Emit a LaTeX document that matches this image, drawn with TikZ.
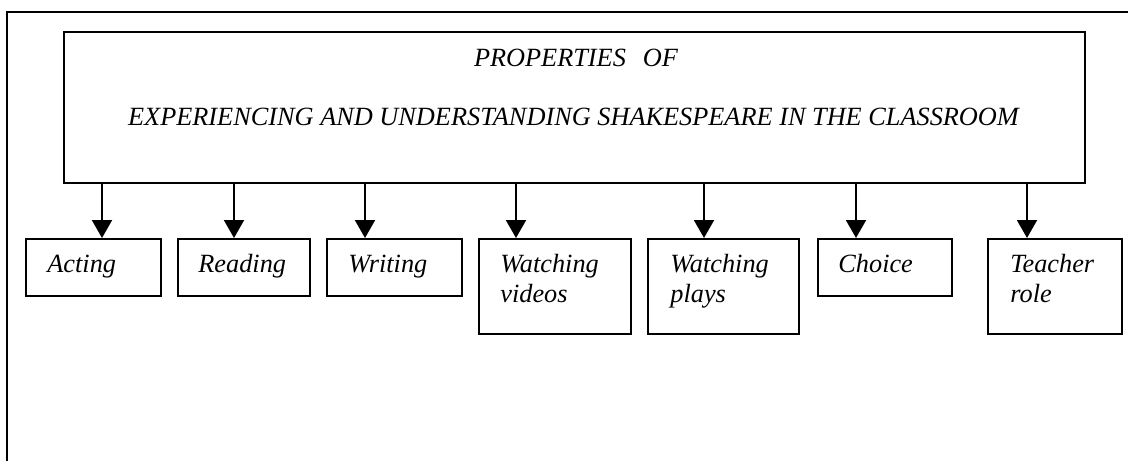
\documentclass[tikz,border=0pt]{standalone}
\usepackage{fontspec}
\setmainfont{Liberation Serif}
\usetikzlibrary{arrows.meta}
\begin{document}
\begin{tikzpicture}[x=0.5pt,y=-0.5pt,
  frame/.style={line width=1pt},
  box/.style={draw, line width=1pt, inner sep=0pt, anchor=north west},
  lbl/.style={anchor=base west, inner sep=0pt, font=\fontsize{13.15}{15}\selectfont\itshape},
  ttl/.style={anchor=base, inner sep=0pt, font=\fontsize{13.15}{15}\selectfont\itshape},
  arr/.style={line width=1pt, -{Triangle[length=9pt,width=10pt]}}]
\useasboundingbox (0,0) rectangle (1128,460);
\draw[frame] (7,462) -- (7,12) -- (1130,12);
% main box
\node[box, minimum width=510.5pt, minimum height=75.5pt] (main) at (63,31) {};
\node[ttl] (t1) at (576,67) {PROPERTIES\hspace{8.5pt}OF};
\node[ttl] (t2) at (573.5,126) {EXPERIENCING AND UNDERSTANDING SHAKESPEARE IN THE CLASSROOM};
% child boxes
\node[box, minimum width=67.5pt, minimum height=28.5pt] (acting) at (25,238) {};
\node[box, minimum width=66pt, minimum height=28.5pt] (reading) at (177,238) {};
\node[box, minimum width=67.5pt, minimum height=28.5pt] (writing) at (326,238) {};
\node[box, minimum width=76pt, minimum height=47.5pt] (videos) at (478,238) {};
\node[box, minimum width=75.5pt, minimum height=47.5pt] (plays) at (647,238) {};
\node[box, minimum width=67pt, minimum height=28.5pt] (choice) at (817,238) {};
\node[box, minimum width=67pt, minimum height=47.5pt] (teacher) at (987,238) {};
% labels
\node[lbl] (l1) at (47,272) {Acting};
\node[lbl] (l2) at (198,272) {Reading};
\node[lbl] (l3) at (348,272) {Writing};
\node[lbl] (l4a) at (500,272) {Watching};
\node[lbl] (l4b) at (500,302) {videos};
\node[lbl] (l5a) at (670,272) {Watching};
\node[lbl] (l5b) at (670,302) {plays};
\node[lbl] (l6) at (838,272) {Choice};
\node[lbl] (l7a) at (1010,272) {Teacher};
\node[lbl] (l7b) at (1010,302) {role};
% arrows
\path (acting.north west) ++(77,0) coordinate (e1);
\path (reading.north west) ++(57,0) coordinate (e2);
\path (writing.north west) ++(39,0) coordinate (e3);
\path (videos.north west) ++(38,0) coordinate (e4);
\path (plays.north west) ++(57,0) coordinate (e5);
\path (choice.north west) ++(39,0) coordinate (e6);
\path (teacher.north west) ++(40,0) coordinate (e7);
\foreach \e in {e1,e2,e3,e4,e5,e6,e7}
  \draw[arr] (\e |- main.south) -- (\e);
\end{tikzpicture}
\end{document}
